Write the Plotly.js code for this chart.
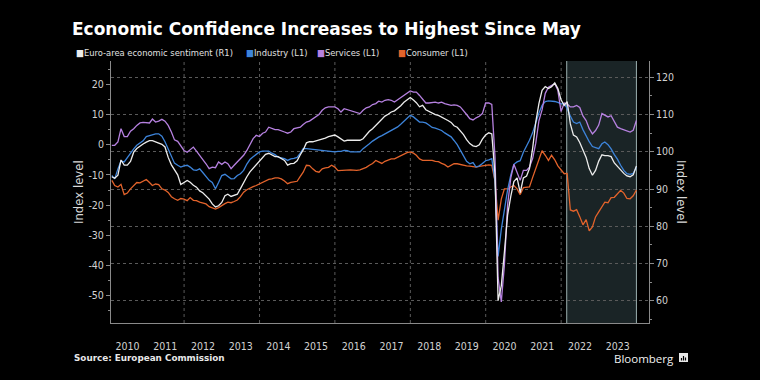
<!DOCTYPE html>
<html>
<head>
<meta charset="utf-8">
<script src="https://cdn.plot.ly/plotly-3.0.1.min.js"></script>
<style>
html,body{margin:0;padding:0;background:#000;}
#chart{width:760px;height:380px;}
</style>
</head>
<body>
<div id="chart"></div>
<script>
// Monthly data, Jan 2010 .. Dec 2023
const startYear = 2010;
const yearLabels = ['2010','2011','2012','2013','2014','2015','2016','2017','2018','2019','2020','2021','2022','2023'];

// Euro-area economic sentiment (right axis)
const sentiment = [
  93.3, 92.9, 93.7, 97.8, 96.4, 96.4, 97.4, 99.9, 100.9, 101.6, 102.1, 102.6,
  103.0, 103.0, 102.7, 102.5, 102.0, 101.3, 98.5, 96.5, 95.0, 93.8, 91.2, 91.8,
  92.3, 91.8, 91.0, 90.5, 89.5, 89.0, 88.0, 87.3, 86.0, 85.2, 85.5, 86.4,
  88.2, 88.6, 88.0, 88.2, 88.6, 90.1, 91.8, 93.3, 94.6, 95.6, 96.6, 97.6,
  98.6, 99.3, 99.6, 99.1, 98.7, 98.7, 98.3, 97.7, 96.4, 96.8, 96.9, 97.6,
  99.2, 100.5, 102.4, 102.7, 102.7, 102.9, 103.1, 103.4, 103.7, 104.1, 104.2, 104.5,
  104.0, 103.4, 102.9, 103.1, 103.1, 103.1, 103.1, 103.1, 103.5, 104.6, 105.5, 106.2,
  107.1, 108.1, 108.9, 109.6, 110.1, 110.7, 111.0, 111.6, 112.4, 113.3, 114.0, 114.6,
  113.9, 113.2, 112.1, 112.5, 111.3, 110.8, 110.5, 110.0, 109.8, 109.4, 109.0, 108.4,
  107.9, 107.0, 106.6, 105.7, 104.6, 103.3, 102.2, 101.6, 101.4, 101.9, 103.4, 104.5,
  105.1, 104.8, 94.0, 60.0, 64.0, 73.0, 83.0, 88.0, 92.0, 93.0, 89.0, 93.0,
  93.5, 95.5, 101.0, 108.0, 113.0, 116.5, 117.5, 117.0, 117.5, 118.5, 117.0, 114.0,
  112.5, 113.5, 107.5, 104.5, 104.0, 102.5, 100.5, 98.5, 95.5, 93.7, 95.0, 97.5,
  99.2, 99.0, 99.0, 98.7, 97.0, 96.0, 95.2, 94.2, 93.5, 93.3, 93.8, 96.2
];

// Industry (left axis)
const industry = [
  -10.2, -11.3, -8.0, -5.4, -5.7, -4.3, -2.6, -1.4, -0.2, 0.5, 1.3, 2.7,
  3.0, 3.5, 3.6, 3.6, 2.8, 1.0, -1.3, -3.9, -6.1, -6.8, -7.4, -7.0,
  -6.8, -7.4, -8.3, -8.5, -8.0, -9.2, -10.7, -11.8, -12.5, -14.6, -12.5, -10.2,
  -9.8, -10.6, -11.3, -11.2, -10.2, -9.6, -8.5, -6.4, -4.9, -4.0, -3.2, -2.4,
  -2.1, -2.1, -2.1, -2.8, -3.3, -4.1, -4.3, -4.6, -5.2, -4.7, -4.5, -4.2,
  -2.8, -1.3, -1.3, -1.4, -1.7, -1.7, -1.7, -1.8, -1.9, -2.0, -2.3, -2.4,
  -2.2, -2.2, -1.9, -2.0, -2.4, -2.4, -2.4, -2.4, -1.3, -0.6, 0.3, 1.2,
  2.0, 2.5, 3.0, 3.6, 4.2, 4.8, 5.3, 5.9, 6.8, 7.8, 8.9, 9.7,
  9.2, 8.3, 7.5, 7.5, 7.2, 6.5, 5.7, 5.5, 5.2, 4.7, 3.9, 3.3,
  2.6, 1.4, 0.0, -1.8, -3.9, -5.5, -6.3, -5.9, -7.4, -7.0, -6.2, -5.3,
  -5.0, -4.6, -12.0, -37.0, -28.0, -21.0, -15.0, -10.0, -6.5, -5.7, -5.3, -2.5,
  -0.5, 1.5, 4.0, 7.5, 10.5, 13.0, 14.3, 14.5, 14.5, 14.3, 14.0, 13.5,
  13.6, 12.0, 9.5, 7.5, 7.0, 7.5, 5.0, 2.8, 1.0, -0.6, -1.0, -1.3,
  0.3, 0.9, 0.0, -1.4, -3.3, -4.8, -6.8, -8.5, -9.6, -9.8, -9.5, -7.4
];

// Services (left axis)
const services = [
  -0.2, -0.2, 0.9, 5.3, 2.7, 2.7, 4.5, 5.3, 6.4, 7.2, 7.4, 7.4,
  7.2, 8.5, 7.5, 7.8, 8.4, 7.8, 6.4, 4.2, 1.6, 1.1, -0.6, -1.9,
  -2.5, -1.7, -0.8, -2.1, -3.5, -4.6, -6.3, -7.9, -7.4, -7.6, -5.7, -6.5,
  -5.7, -6.3, -7.9, -6.8, -5.7, -4.6, -3.5, -1.9, 0.3, 2.0, 3.1, 2.7,
  3.8, 4.2, 5.8, 5.3, 5.0, 5.0, 4.5, 4.2, 3.8, 4.2, 5.3, 5.6,
  5.8, 6.7, 7.5, 7.8, 8.6, 9.2, 10.0, 11.4, 12.2, 12.5, 12.5, 12.5,
  11.9, 10.8, 11.9, 11.6, 11.1, 10.8, 10.5, 10.3, 11.4, 12.2, 12.5, 13.3,
  13.6, 14.4, 14.1, 14.7, 14.9, 14.7, 14.1, 14.9, 15.6, 16.3, 17.2, 17.8,
  17.4, 17.4, 16.3, 14.9, 13.8, 13.8, 14.0, 14.1, 13.8, 14.1, 13.6, 13.2,
  13.0, 13.2, 13.0, 12.5, 11.4, 10.0, 8.6, 8.2, 8.9, 9.4, 10.3, 13.8,
  13.8, 13.3, -4.0, -44.0, -52.0, -40.0, -20.0, -11.0, -6.5, -9.0, -11.8, -8.5,
  -8.5, -7.4, -4.5, 0.5, 8.0, 11.5, 17.0, 19.0, 19.5, 20.2, 18.0, 11.0,
  13.8, 13.5, 12.5, 12.5, 13.0, 12.3, 9.5, 8.0, 5.3, 3.6, 4.7, 6.5,
  10.3, 9.7, 9.2, 9.6, 7.6, 5.8, 5.3, 5.0, 4.5, 4.2, 4.8, 8.0
];

// Consumer (left axis)
const consumer = [
  -11.8, -13.5, -14.0, -13.1, -16.5, -16.0, -14.6, -13.4, -12.5, -12.6, -12.0, -11.5,
  -12.5, -13.5, -13.0, -13.2, -14.6, -15.0, -15.8, -17.2, -17.9, -18.4, -17.8, -18.0,
  -18.5, -17.5, -18.4, -18.5, -19.0, -19.3, -19.6, -20.5, -21.0, -21.3, -20.8, -20.0,
  -19.5, -19.0, -19.2, -18.8, -18.3, -17.2, -15.7, -14.9, -14.3, -13.9, -13.5, -13.0,
  -12.6, -12.0, -11.5, -11.3, -11.0, -11.0, -11.3, -12.0, -12.9, -12.5, -12.4, -12.1,
  -10.5, -9.1, -6.8, -6.9, -8.0, -8.8, -9.1, -8.0, -7.7, -7.5, -6.8, -7.4,
  -8.6, -8.5, -8.5, -8.4, -8.3, -8.4, -8.5, -8.3, -8.0, -7.5, -6.8, -6.2,
  -5.2, -5.7, -6.2, -5.5, -5.2, -4.7, -4.7, -4.2, -3.8, -3.3, -2.6, -2.4,
  -2.8, -3.5, -4.7, -5.2, -5.2, -5.2, -5.2, -5.5, -5.6, -6.2, -6.6, -7.4,
  -6.8, -6.3, -6.3, -6.6, -6.8, -7.0, -7.1, -7.3, -7.4, -7.2, -7.0, -6.8,
  -6.7, -6.8, -12.0, -25.0, -18.0, -14.6, -14.6, -14.0, -13.5, -14.6, -16.5, -14.2,
  -14.0, -14.0, -10.8, -8.1, -5.1, -2.0, -3.5, -5.2, -3.5, -5.0, -7.0, -8.5,
  -9.6, -9.5, -21.6, -22.0, -21.5, -23.8, -26.5, -24.8, -28.5, -27.2, -23.9, -22.2,
  -20.7, -19.0, -19.2, -17.5, -17.4, -16.1, -15.1, -16.0, -17.8, -17.9, -16.9, -15.0
];

const leftTicks = [-50, -40, -30, -20, -10, 0, 10, 20];
const leftTickText = ['-50', '-40', '-30', '-20', '-10', '0', '10', '20'];
const rightTicks = [60, 70, 80, 90, 100, 110, 120];
const shadeStart = '2022-02-24';
const shadeEnd = '2023-12-31';

// month-end dates
const dates = sentiment.map((_, i) => {
  const y = startYear + Math.floor(i / 12), m = i % 12;
  const d = new Date(Date.UTC(y, m + 1, 0));
  return d.toISOString().slice(0, 10);
});

// pixel -> paper helpers (plot area 111..649 x 61..323)
const L = 111, R = 649, T = 61, B = 323;
const PX = X => (X - L) / (R - L);
const PY = Y => (B - Y) / (B - T);

const WHITE = '#ececec', BLUE = '#3d84da', PURPLE = '#b681e0', ORANGE = '#e3632b';

const mk = (y, color, axis, name) => ({
  x: dates, y: y, type: 'scatter', mode: 'lines', name: name,
  yaxis: axis, line: {color: color, width: 1.3}, hoverinfo: 'skip', showlegend: false
});

const traces = [
  mk(consumer, ORANGE, 'y', 'Consumer (L1)'),
  mk(industry, BLUE, 'y', 'Industry (L1)'),
  mk(services, PURPLE, 'y', 'Services (L1)'),
  mk(sentiment, WHITE, 'y2', 'Euro-area economic sentiment (R1)')
];

const GRID = '#5a5a5a';
const shapes = [];
shapes.push({type: 'rect', xref: 'x', yref: 'paper', x0: shadeStart, x1: shadeEnd, y0: 0, y1: 1,
  fillcolor: '#1a2426', line: {width: 0}, layer: 'below'});
for (let yr = 2012; yr <= 2022; yr += 2) {
  shapes.push({type: 'line', xref: 'x', yref: 'paper', x0: yr + '-01-01', x1: yr + '-01-01', y0: 0, y1: 1,
    line: {color: GRID, width: 1, dash: 'dot'}, layer: 'below'});
}
[shadeStart, shadeEnd].forEach(d => shapes.push({type: 'line', xref: 'x', yref: 'paper', x0: d, x1: d, y0: 0, y1: 1,
  line: {color: '#9db0b0', width: 1}, layer: 'between'}));
// Bloomberg icon
shapes.push({type: 'rect', xref: 'paper', yref: 'paper', x0: PX(679), x1: PX(688), y0: PY(362), y1: PY(353),
  fillcolor: '#e8e8e8', line: {width: 0}});
[[681.5, 358], [683.5, 356], [685.5, 357.5]].forEach(([bx, by]) => shapes.push({type: 'line', xref: 'paper', yref: 'paper',
  x0: PX(bx), x1: PX(bx), y0: PY(360.5), y1: PY(by), line: {color: '#000', width: 1.2}}));

const legendItems = [
  {label: 'Euro-area economic sentiment (R1)', color: WHITE, at: 74},
  {label: 'Industry (L1)', color: BLUE, at: 244},
  {label: 'Services (L1)', color: PURPLE, at: 315},
  {label: 'Consumer (L1)', color: ORANGE, at: 396}
];
const legendFont = {family: 'DejaVu Sans Condensed, DejaVu Sans', size: 9.3, color: '#e0e0e0'};

const annotations = [
  {text: '<b>Economic Confidence Increases to Highest Since May</b>', xref: 'paper', yref: 'paper',
   x: PX(70), y: PY(29), xanchor: 'left', yanchor: 'middle', showarrow: false,
   font: {family: 'DejaVu Sans', size: 17, color: '#ffffff'}},
  {text: 'Index level', xref: 'paper', yref: 'paper', x: PX(78), y: PY(192), xanchor: 'center', yanchor: 'middle',
   textangle: -90, showarrow: false, font: {family: 'DejaVu Sans Condensed, DejaVu Sans', size: 13, color: '#d8d8d8'}},
  {text: 'Index level', xref: 'paper', yref: 'paper', x: PX(682), y: PY(192), xanchor: 'center', yanchor: 'middle',
   textangle: 90, showarrow: false, font: {family: 'DejaVu Sans Condensed, DejaVu Sans', size: 13, color: '#d8d8d8'}},
  {text: '<b>Source: European Commission</b>', xref: 'paper', yref: 'paper', x: PX(72), y: PY(358), xanchor: 'left',
   yanchor: 'middle', showarrow: false, font: {family: 'DejaVu Sans', size: 8.8, color: '#e8e8e8'}},
  {text: 'Bloomberg', xref: 'paper', yref: 'paper', x: PX(675), y: PY(358.5), xanchor: 'right', yanchor: 'middle',
   showarrow: false, borderpad: 0, font: {family: 'Open Sans', size: 11.5, color: '#f0f0f0'}}
];
legendItems.forEach(it => annotations.push({
  text: '<span style="color:' + it.color + '">■</span>' + it.label, xref: 'paper', yref: 'paper',
  x: PX(it.at), y: PY(52), xanchor: 'left', yanchor: 'middle', showarrow: false, font: legendFont
}));

const tickFont = {family: 'DejaVu Sans Condensed, DejaVu Sans', size: 10.5, color: '#d2d2d2'};

const layout = {
  width: 760, height: 380,
  paper_bgcolor: '#000', plot_bgcolor: '#000',
  margin: {l: L, r: 760 - R, t: T, b: 380 - B, pad: 0},
  showlegend: false,
  xaxis: {
    type: 'date', range: ['2010-01-23', '2024-05-01'],
    tick0: '2010-01-01', dtick: 'M12', tickformat: '%Y', ticklabelmode: 'period',
    ticks: 'outside', ticklen: 13, tickcolor: 'rgba(0,0,0,0)',
    minor: {ticks: 'outside', ticklen: 28, dtick: 'M12', tick0: '2010-01-01', tickcolor: '#7a7a7a', tickwidth: 1, showgrid: false},
    showline: true, linecolor: '#8a8a8a', linewidth: 1, showgrid: false, zeroline: false,
    tickfont: tickFont, fixedrange: true
  },
  yaxis: {
    range: [-59, 27.7], tickmode: 'array', tickvals: leftTicks, ticktext: leftTickText,
    ticks: 'outside', ticklen: 4, tickcolor: '#8a8a8a',
    minor: {ticks: 'outside', ticklen: 2, dtick: 5, tick0: 0, tickcolor: '#8a8a8a', showgrid: false},
    showline: true, linecolor: '#8a8a8a', showgrid: false, zeroline: false, tickfont: tickFont, fixedrange: true
  },
  yaxis2: {
    overlaying: 'y', side: 'right', range: [54, 124.4], tickmode: 'array', tickvals: rightTicks,
    ticks: 'outside', ticklen: 4, tickcolor: '#8a8a8a',
    minor: {ticks: 'outside', ticklen: 2, dtick: 5, tick0: 0, tickcolor: '#8a8a8a', showgrid: false},
    showline: true, linecolor: '#8a8a8a', showgrid: true, gridcolor: GRID, griddash: 'dot', gridwidth: 1,
    zeroline: false, tickfont: tickFont, fixedrange: true
  },
  shapes: shapes,
  annotations: annotations
};

Plotly.newPlot('chart', traces, layout, {staticPlot: true, displayModeBar: false});
</script>
</body>
</html>
